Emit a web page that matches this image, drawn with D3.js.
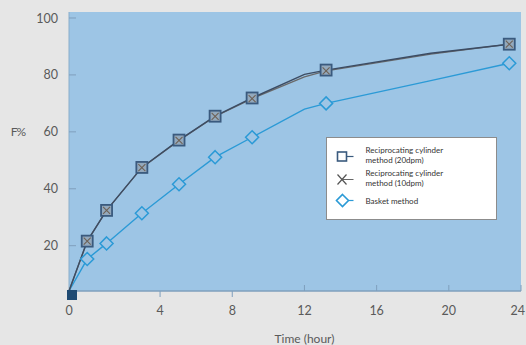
<!DOCTYPE html>
<html><head><meta charset="utf-8">
<script src="https://cdn.jsdelivr.net/npm/d3@7"></script>
<style>
html,body{margin:0;padding:0;background:#e6e6e6;}
svg{display:block;}
text{font-family:"Lato","Open Sans",sans-serif;}
</style></head>
<body>
<script>
// Data (time in hours, F in %)
const times   = [0, 0.8, 1.65, 3.2, 5.05, 7.05, 9.1, 12, 13.2, 19, 23.35];
const sampled = [true, true, true, true, true, true, true, false, true, false, true];
const rc20    = [0, 21.6, 32.4, 47.5, 57.1, 65.5, 71.9, 80.2, 81.7, 87.6, 90.8];
const rc10    = [0, 21.6, 32.4, 47.4, 57.0, 65.4, 71.7, 79.3, 81.4, 87.3, 90.8];
const basket  = [0, 14.1, 20.8, 31.4, 41.6, 51.1, 58.1, 68.0, 70.0, 78.0, 84.1];
const xTicks  = [0, 4, 8, 12, 16, 20, 24];
const yTicks  = [20, 40, 60, 80, 100];
const legendLabels = [["Reciprocating cylinder","method (20dpm)"],["Reciprocating cylinder","method (10dpm)"],["Basket method"]];

const W = 526, H = 345;
const m = {left:69, top:12, right:5, bottom:54};
const w = W - m.left - m.right, h = H - m.top - m.bottom;

const svg = d3.select("body").append("svg").attr("width", W).attr("height", H);
svg.append("rect").attr("width", W).attr("height", H).attr("fill", "#e6e6e6");
const g = svg.append("g").attr("transform", `translate(${m.left},${m.top})`);

// polylinear scales reproducing the reference's compressed first interval
const x = d3.scaleLinear().domain([0, 4, 24]).range([0, w * 0.2015, w]);
const y = d3.scaleLinear().domain([0, 20, 100]).range([h, h * 0.8376, h * 0.0215]);

g.append("rect").attr("width", w).attr("height", h).attr("fill", "#9dc5e5");
g.append("line").attr("x1", 0).attr("x2", 0).attr("y1", 0).attr("y2", h).attr("stroke", "#8aaecb").attr("stroke-width", 1);
g.append("line").attr("x1", 0).attr("x2", w).attr("y1", h).attr("y2", h).attr("stroke", "#7f9fbd").attr("stroke-width", 1.5);

// y axis ticks (inward) and labels
yTicks.forEach(v => {
  g.append("line").attr("x1", 0).attr("x2", 7).attr("y1", y(v)).attr("y2", y(v)).attr("stroke", "#7f9fbd").attr("stroke-width", 1);
  g.append("text").attr("x", -11).attr("y", y(v)).attr("dy", "0.36em").attr("text-anchor", "end")
    .attr("font-size", 12.5).attr("fill", "#5a5a5a").text(v);
});
// x axis ticks and labels
xTicks.forEach(v => {
  if (v > 0) {
    const out = v < 12;
    g.append("line").attr("x1", x(v)).attr("x2", x(v)).attr("y1", h).attr("y2", out ? h + 6 : h - 6)
      .attr("stroke", "#7f9fbd").attr("stroke-width", 1);
  }
  const last = v === xTicks[xTicks.length - 1];
  g.append("text").attr("x", last ? w + 4 : x(v)).attr("y", h + 24).attr("text-anchor", last ? "end" : "middle")
    .attr("font-size", 12.5).attr("fill", "#5a5a5a").text(v);
});
svg.append("text").attr("x", 18).attr("y", m.top + y(60)).attr("dy", "0.36em").attr("text-anchor", "middle")
  .attr("font-size", 12).attr("fill", "#5a5a5a").attr("letter-spacing", -1).text("F%");
svg.append("text").attr("x", m.left + x(12)).attr("y", H - 2).attr("text-anchor", "middle")
  .attr("font-size", 12).attr("fill", "#5a5a5a").text("Time (hour)");

const rows = times.map((t, i) => ({t, s: sampled[i], a: rc20[i], b: rc10[i], c: basket[i]}));
const line = key => d3.line().x(d => x(d.t)).y(d => y(d[key]));

g.append("path").datum(rows).attr("d", line("c")).attr("fill", "none").attr("stroke", "#2b9ad6").attr("stroke-width", 1.4);
g.append("path").datum(rows).attr("d", line("b")).attr("fill", "none").attr("stroke", "#6a6a6a").attr("stroke-width", 1.3);
g.append("path").datum(rows).attr("d", line("a")).attr("fill", "none").attr("stroke", "#3c4c63").attr("stroke-width", 1.4);

const pts = rows.filter(d => d.s && d.t > 0);
// basket diamonds
g.selectAll(".dia").data(pts).join("path")
  .attr("d", "M0,-6.5L6.5,0L0,6.5L-6.5,0Z")
  .attr("transform", d => `translate(${x(d.t)},${y(d.c)})`)
  .attr("fill", "#9dc5e5").attr("stroke", "#2b9ad6").attr("stroke-width", 1.5);
// 20 dpm squares
g.selectAll(".sq").data(pts).join("rect")
  .attr("x", d => x(d.t) - 5.5).attr("y", d => y(d.a) - 5.5).attr("width", 11).attr("height", 11)
  .attr("fill", "#93a9bd").attr("stroke", "#3a5a7e").attr("stroke-width", 1.8);
// 10 dpm crosses
g.selectAll(".cx").data(pts).join("path")
  .attr("d", "M-3.5,-3.5L3.5,3.5M-3.5,3.5L3.5,-3.5")
  .attr("transform", d => `translate(${x(d.t)},${y(d.b)})`)
  .attr("stroke", "#6e6257").attr("stroke-width", 1.1).attr("fill", "none");
// origin marker
const o = rows[0];
g.append("rect").attr("x", x(o.t) - 2).attr("y", y(o.a) - 1).attr("width", 10).attr("height", 10)
  .attr("fill", "#1f4a72");

// legend
const lg = svg.append("g").attr("transform", "translate(326.5,137.5)");
lg.append("rect").attr("width", 170).attr("height", 82).attr("fill", "#fff").attr("stroke", "#8c8c8c").attr("stroke-width", 1);
const ly = [19, 42, 63];
lg.append("line").attr("x1", 16).attr("x2", 27).attr("y1", ly[0]).attr("y2", ly[0]).attr("stroke", "#3a5a7e").attr("stroke-width", 1.2);
lg.append("rect").attr("x", 11).attr("y", ly[0] - 4.5).attr("width", 9).attr("height", 9).attr("fill", "#fff").attr("stroke", "#3a5a7e").attr("stroke-width", 1.6);
lg.append("line").attr("x1", 16).attr("x2", 27).attr("y1", ly[1]).attr("y2", ly[1]).attr("stroke", "#666").attr("stroke-width", 1);
lg.append("path").attr("d", `M11,${ly[1]-5}L20,${ly[1]+5}M11,${ly[1]+5}L20,${ly[1]-5}`).attr("stroke", "#555").attr("stroke-width", 1.2);
lg.append("line").attr("x1", 16).attr("x2", 27).attr("y1", ly[2]).attr("y2", ly[2]).attr("stroke", "#2b9ad6").attr("stroke-width", 1.2);
lg.append("path").attr("d", `M16,${ly[2]-6}L22,${ly[2]}L16,${ly[2]+6}L10,${ly[2]}Z`).attr("fill", "#fff").attr("stroke", "#2b9ad6").attr("stroke-width", 1.6);
legendLabels.forEach((lines, i) => {
  const t = lg.append("text").attr("x", 39).attr("font-size", 8).attr("fill", "#333")
    .attr("font-family", "Liberation Sans, Arial, sans-serif");
  const y0 = lines.length === 2 ? ly[i] - 4 : ly[i] + 3;
  lines.forEach((s, j) => t.append("tspan").attr("x", 39).attr("y", y0 + j * 10).text(s));
});
</script>
</body></html>
